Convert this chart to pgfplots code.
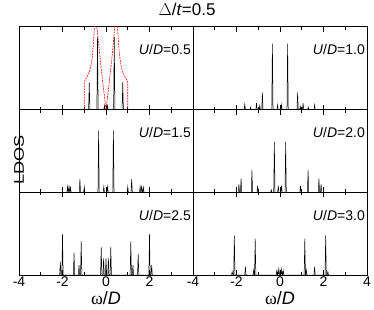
\documentclass[border=0pt]{standalone}
\usepackage{fontspec}
\setmainfont{Liberation Sans}
\newfontfamily\grk{Liberation Serif}
\usepackage{pgfplots}
\pgfplotsset{compat=1.18}
\pgfplotsset{
  every axis title shift=0pt,
  panel/.style={
    scale only axis, width=174pt, height=82.67pt,
    anchor=south west,
    xmin=-4, xmax=4, ymin=0, ymax=1,
    xtick={-4,-2,0,2,4}, minor xtick={-3,-1,1,3},
    ytick=\empty,
    tick pos=both, tick align=inside,
    major tick length=5pt, minor tick length=3pt,
    axis line style={line width=1pt},
    every tick/.style={line width=0.8pt, black},
    xticklabels={},
    tick label style={font=\fontsize{14}{16}\selectfont, inner sep=2pt},
    xlabel style={at={(axis description cs:0.5,0)}, anchor=base, yshift=-29.5pt, font=\fontsize{18}{20}\selectfont, inner sep=0pt},
  },
  spk/.style={black, line width=0.5pt, sharp plot, mark=none},
}
\tikzset{ulab/.style={font=\fontsize{14}{16}\selectfont, anchor=base east, inner sep=0pt}}
\begin{document}
\begin{tikzpicture}
\useasboundingbox (0pt,0pt) rectangle (374pt,309pt);
% ---- row 1 left: U/D=0.5
\begin{axis}[panel, at={(19pt,199.33pt)},
  title={$\Delta$/\textit{t}=0.5},
  title style={at={(rel axis cs:0.966,1)}, anchor=base, yshift=11pt, font=\fontsize{17}{19}\selectfont, inner sep=0pt}]
\addplot[spk] coordinates {(-0.80,0)(-0.77,0.33)(-0.74,0)(-0.42,0)(-0.39,0.88)(-0.36,0)(-0.10,0)(-0.07,0.05)(-0.04,0)(0.04,0)(0.07,0.05)(0.10,0)(0.35,0)(0.38,0.88)(0.41,0)(0.74,0)(0.77,0.33)(0.80,0)};
\addplot[red, line width=0.6pt, dash pattern=on 1.8pt off 1pt, sharp plot, mark=none] coordinates {(-1.0,0)(-1.0,0.33)(-0.93,0.37)(-0.85,0.41)(-0.76,0.46)(-0.69,0.54)(-0.63,0.64)(-0.585,0.78)(-0.55,0.92)(-0.52,1.05)(-0.50,1.2)(-0.46,1.1)(-0.42,1.0)(-0.30,0.70)(-0.20,0.45)(-0.10,0.22)(0,0)(0.10,0.22)(0.20,0.45)(0.30,0.70)(0.40,1.0)(0.44,1.1)(0.50,1.2)(0.52,1.05)(0.55,0.92)(0.585,0.78)(0.63,0.64)(0.69,0.54)(0.76,0.46)(0.85,0.41)(0.93,0.37)(1.0,0.33)(1.0,0)};
\node[ulab] at (rel axis cs:1,1) [xshift=-2pt, yshift=-28pt] {\textit{U}/\textit{D}=0.5};
\end{axis}
% ---- row 1 right: U/D=1.0
\begin{axis}[panel, at={(193pt,199.33pt)}]
\addplot[spk] coordinates {(-1.65,0)(-1.62,0.065)(-1.59,0)(-1.38,0)(-1.35,0.03)(-1.32,0)(-1.11,0)(-1.08,0.08)(-1.05,0)(-0.96,0)(-0.93,0.05)(-0.90,0)(-0.84,0)(-0.81,0.21)(-0.78,0)(-0.38,0)(-0.35,0.80)(-0.32,0)(-0.14,0)(-0.11,0.06)(-0.08,0)(0.04,0)(0.07,0.06)(0.10,0)(0.32,0)(0.35,0.80)(0.38,0)(0.78,0)(0.81,0.21)(0.84,0)(0.90,0)(0.93,0.04)(0.96,0)(1.03,0)(1.06,0.08)(1.09,0)(1.27,0)(1.30,0.03)(1.33,0)(1.56,0)(1.59,0.06)(1.62,0)};
\node[ulab] at (rel axis cs:1,1) [xshift=-2pt, yshift=-28pt] {\textit{U}/\textit{D}=1.0};
\end{axis}
% ---- row 2 left: U/D=1.5
\begin{axis}[panel, at={(19pt,116.67pt)},
  ylabel={\scalebox{1.3}[1]{LDOS}},
  ylabel style={at={(rel axis cs:0,0.5)}, anchor=center, xshift=-9pt, font=\fontsize{14}{16}\selectfont, inner sep=0pt}]
\addplot[spk] coordinates {(-1.80,0)(-1.77,0.07)(-1.74,0)(-1.73,0)(-1.70,0.08)(-1.67,0)(-1.66,0)(-1.63,0.06)(-1.60,0)(-1.23,0)(-1.20,0.16)(-1.17,0)(-1.03,0)(-1.00,0.07)(-0.97,0)(-0.37,0)(-0.34,0.75)(-0.31,0)(-0.13,0)(-0.10,0.07)(-0.07,0)(0.04,0)(0.07,0.07)(0.10,0)(0.31,0)(0.34,0.75)(0.37,0)(0.97,0)(1.00,0.07)(1.03,0)(1.15,0)(1.18,0.16)(1.21,0)(1.54,0)(1.57,0.07)(1.60,0)(1.61,0)(1.64,0.08)(1.67,0)(1.69,0)(1.72,0.06)(1.75,0)};
\node[ulab] at (rel axis cs:1,1) [xshift=-2pt, yshift=-28pt] {\textit{U}/\textit{D}=1.5};
\end{axis}
% ---- row 2 right: U/D=2.0
\begin{axis}[panel, at={(193pt,116.67pt)}]
\addplot[spk] coordinates {(-1.92,0)(-1.89,0.10)(-1.86,0)(-1.82,0)(-1.79,0.17)(-1.76,0)(-1.32,0)(-1.29,0.27)(-1.26,0)(-1.06,0)(-1.03,0.08)(-1.00,0)(-0.43,0)(-0.40,0.03)(-0.37,0)(-0.29,0)(-0.26,0.61)(-0.23,0)(-0.11,0)(-0.08,0.08)(-0.05,0)(0.04,0)(0.07,0.08)(0.10,0)(0.23,0)(0.26,0.61)(0.29,0)(0.91,0)(0.94,0.08)(0.97,0)(1.26,0)(1.29,0.27)(1.32,0)(1.76,0)(1.79,0.17)(1.82,0)(1.86,0)(1.89,0.10)(1.92,0)};
\node[ulab] at (rel axis cs:1,1) [xshift=-2pt, yshift=-28pt] {\textit{U}/\textit{D}=2.0};
\end{axis}
% ---- row 3 left: U/D=2.5
\begin{axis}[panel, at={(19pt,34pt)},
  xticklabels={-4,-2,0,2,{}},
  xlabel={{\grk ω}/\textit{D}}]
\addplot[spk] coordinates {(-2.13,0)(-2.10,0.16)(-2.07,0)(-2.03,0)(-2.00,0.49)(-1.97,0)(-1.50,0)(-1.47,0.27)(-1.44,0)(-1.27,0)(-1.24,0.12)(-1.21,0)(-1.17,0)(-1.14,0.41)(-1.11,0)(-0.25,0)(-0.22,0.34)(-0.19,0)(-0.14,0)(-0.11,0.20)(-0.08,0)(-0.03,0)(0.00,0.20)(0.03,0)(0.08,0)(0.11,0.20)(0.14,0)(0.19,0)(0.22,0.34)(0.25,0)(1.11,0)(1.14,0.41)(1.17,0)(1.21,0)(1.24,0.12)(1.27,0)(1.45,0)(1.48,0.26)(1.51,0)(1.97,0)(2.00,0.49)(2.03,0)(2.07,0)(2.10,0.12)(2.13,0)};
\node[ulab] at (rel axis cs:1,1) [xshift=-2pt, yshift=-28pt] {\textit{U}/\textit{D}=2.5};
\end{axis}
% ---- row 3 right: U/D=3.0
\begin{axis}[panel, at={(193pt,34pt)},
  xticklabels={-4,-2,0,2,4},
  xlabel={{\grk ω}/\textit{D}}]
\addplot[spk] coordinates {(-2.23,0)(-2.20,0.04)(-2.17,0)(-2.13,0)(-2.10,0.48)(-2.07,0)(-1.62,0)(-1.59,0.10)(-1.56,0)(-1.24,0)(-1.21,0.06)(-1.18,0)(-1.17,0)(-1.14,0.44)(-1.11,0)(-0.18,0)(-0.15,0.05)(-0.12,0)(-0.11,0)(-0.08,0.07)(-0.05,0)(-0.03,0)(0.00,0.06)(0.03,0)(0.05,0)(0.08,0.07)(0.11,0)(0.12,0)(0.15,0.05)(0.18,0)(1.11,0)(1.14,0.44)(1.17,0)(1.18,0)(1.21,0.06)(1.24,0)(1.56,0)(1.59,0.10)(1.62,0)(2.07,0)(2.10,0.48)(2.13,0)(2.17,0)(2.20,0.04)(2.23,0)};
\node[ulab] at (rel axis cs:1,1) [xshift=-2pt, yshift=-28pt] {\textit{U}/\textit{D}=3.0};
\end{axis}
\end{tikzpicture}
\end{document}
